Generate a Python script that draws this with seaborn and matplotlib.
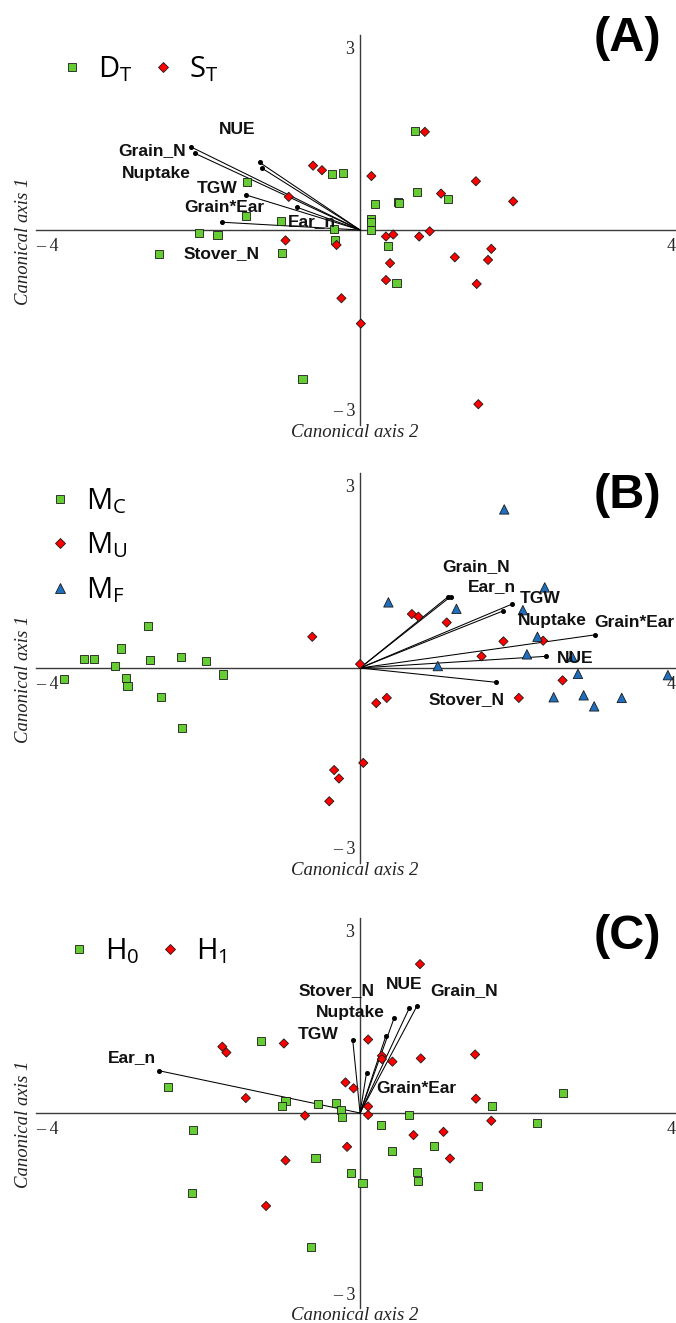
import matplotlib
matplotlib.use("Agg")
import matplotlib.pyplot as plt
import numpy as np
import pandas as pd
import seaborn as sns

sns.set_theme(style="white")
plt.rcParams["font.family"] = ["Liberation Sans", "DejaVu Sans"]
plt.rcParams["mathtext.default"] = "regular"

# ---------------- Panel A data ----------------
A_groups = ["D$_T$", "S$_T$"]
DT_x = [0.68, -0.35, -0.21, -1.40, 0.70, 1.09, 0.18, 0.47, 0.48, -1.41, -0.98, 0.13, 0.13, 0.14,
        -0.32, -1.99, -1.76, -0.31, -2.48, -0.96, 0.35, 0.45, -0.71]
DT_y = [1.53, 0.86, 0.87, 0.74, 0.58, 0.47, 0.40, 0.43, 0.41, 0.21, 0.14, 0.17, 0.13, 0.00,
        0.02, -0.04, -0.08, -0.16, -0.37, -0.35, -0.25, -0.82, -2.29]
ST_x = [0.80, -0.58, -0.47, 0.14, 1.43, -0.88, 1.00, 1.89, 0.86, 0.41, 0.32, 0.73, -0.92, -0.29,
        1.62, 1.17, 1.58, 0.37, 0.32, 1.44, -0.23, 0.01, 1.46]
ST_y = [1.51, 0.99, 0.92, 0.83, 0.75, 0.51, 0.56, 0.44, -0.02, -0.07, -0.10, -0.10, -0.16, -0.23,
        -0.29, -0.42, -0.46, -0.51, -0.77, -0.83, -1.05, -1.44, -2.68]
A_vars = ["Grain_N", "Nuptake", "NUE", "TGW", "Grain*Ear", "Ear_n", "Stover_N"]
A_vec_x = [-2.09, -2.04, -1.24, -1.21, -1.41, -0.78, -1.71]
A_vec_y = [1.28, 1.18, 1.04, 0.95, 0.54, 0.35, 0.12]
A_lab_x = [-2.57, -2.51, -1.52, -1.77, -1.68, -0.60, -1.71]
A_lab_y = [1.22, 0.87, 1.54, 0.64, 0.35, 0.13, -0.37]

# ---------------- Panel B data ----------------
B_groups = ["M$_C$", "M$_U$", "M$_F$"]
MC_x = [-3.65, -3.41, -3.28, -3.03, -2.95, -2.89, -2.87, -2.62, -2.59, -2.46, -2.21, -2.20, -1.90, -1.69]
MC_y = [-0.17, 0.14, 0.14, 0.03, 0.30, -0.15, -0.27, 0.65, 0.13, -0.45, 0.17, -0.92, 0.11, -0.10]
MU_x = [-0.59, 0.00, 0.64, 0.72, 1.07, 1.77, 1.50, 2.26, 2.50, 1.96, 0.20, 0.33, 0.04, -0.32, -0.26, -0.38]
MU_y = [0.48, 0.06, 0.83, 0.79, 0.70, 0.41, 0.18, 0.42, -0.19, -0.46, -0.54, -0.46, -1.46, -1.57, -1.70, -2.05]
MF_x = [1.78, 2.28, 0.35, 1.19, 2.01, 2.19, 2.06, 2.62, 0.96, 2.69, 3.80, 2.39, 2.76, 2.89, 3.23]
MF_y = [2.44, 1.24, 1.01, 0.91, 0.89, 0.48, 0.21, 0.17, 0.03, -0.09, -0.11, -0.45, -0.42, -0.59, -0.46]
B_vars = ["Grain_N", "Ear_n", "TGW", "Nuptake", "Grain*Ear", "NUE", "Stover_N"]
B_vec_x = [1.09, 1.12, 1.87, 1.77, 2.90, 2.30, 1.68]
B_vec_y = [1.10, 1.10, 0.98, 0.88, 0.51, 0.18, -0.22]
B_lab_x = [1.43, 1.63, 2.22, 2.37, 3.39, 2.66, 1.31]
B_lab_y = [1.56, 1.26, 1.07, 0.73, 0.70, 0.15, -0.49]

# ---------------- Panel C data ----------------
C_groups = ["H$_0$", "H$_1$"]
H0_x = [-1.22, -2.37, -0.92, -0.96, -0.52, -0.30, -0.24, -0.22, -2.06, 0.60, 0.26, 1.63, 2.51, 2.18,
        0.91, 0.39, -0.55, -0.11, 0.03, 0.70, 0.71, 1.46, -2.07, -0.61]
H0_y = [1.11, 0.40, 0.19, 0.11, 0.14, 0.16, 0.04, -0.06, -0.26, -0.03, -0.18, 0.11, 0.31, -0.15,
        -0.51, -0.58, -0.69, -0.93, -1.07, -0.91, -1.05, -1.12, -1.23, -2.06]
H1_x = [0.74, 0.10, -0.94, -1.70, -1.65, 1.42, 0.75, 0.27, 0.27, 0.40, -0.18, -0.08, -1.41, 1.43,
        0.10, 0.10, -0.68, 1.62, 0.66, 1.03, -0.16, -0.92, 1.11, -1.16]
H1_y = [2.29, 1.13, 1.07, 1.02, 0.93, 0.90, 0.84, 0.88, 0.83, 0.79, 0.47, 0.38, 0.23, 0.22,
        0.10, -0.03, -0.04, -0.12, -0.34, -0.29, -0.52, -0.73, -0.70, -1.43]
C_vars = ["Ear_n", "TGW", "Grain*Ear", "Stover_N", "Nuptake", "NUE", "Grain_N"]
C_vec_x = [-2.48, -0.09, 0.08, 0.32, 0.42, 0.61, 0.70]
C_vec_y = [0.65, 1.12, 0.62, 1.19, 1.46, 1.62, 1.64]
C_lab_x = [-2.82, -0.52, 0.69, -0.29, -0.12, 0.55, 1.28]
C_lab_y = [0.86, 1.21, 0.37, 1.88, 1.54, 1.97, 1.88]

GREEN, RED, BLUE = "#66CC33", "#FF0000", "#1F6FBF"
MARKER_SIZE = {"s": 34, "D": 22, "^": 46}
XMIN, XMAX, YMIN, YMAX = -4.0, 3.9, -3.0, 3.0


def make_df(groups, xs, ys):
    frames = [pd.DataFrame({"x": x, "y": y, "g": g}) for g, x, y in zip(groups, xs, ys)]
    return pd.concat(frames, ignore_index=True)


def draw_panel(ax, df, groups, markers, colors, vnames, vx, vy, lx, ly,
               letter, letter_y, leg_anchor, ncol, labelspacing):
    ax.set_xlim(XMIN, XMAX)
    ax.set_ylim(YMIN, YMAX)
    for side in ["top", "right"]:
        ax.spines[side].set_visible(False)
    ax.spines["left"].set_position(("data", 0))
    ax.spines["bottom"].set_position(("data", 0))
    ax.spines["left"].set_bounds(YMIN, YMAX)
    ax.spines["bottom"].set_bounds(XMIN, XMAX)
    for side in ["left", "bottom"]:
        ax.spines[side].set_color("#3a3a3a")
        ax.spines[side].set_linewidth(1.0)
    ax.set_xticks(np.arange(-3, 4, 1.0))
    ax.set_yticks([-2.25, -1.5, -0.75, 0.75, 1.5, 2.25])
    ax.tick_params(axis="both", length=3, width=0.8, color="#3a3a3a", direction="out",
                   labelbottom=False, labelleft=False)

    # biplot vectors
    for name, x, y, tx, ty in zip(vnames, vx, vy, lx, ly):
        ax.plot([0, x], [0, y], color="black", lw=0.75, zorder=4,
                marker="o", markersize=2.6, markevery=[1])
        ax.text(tx, ty, name, ha="center", va="center", fontsize=12.5,
                fontweight="bold", color="#111111", zorder=6)

    sns.scatterplot(data=df, x="x", y="y", hue="g", style="g", size="g",
                    hue_order=groups, style_order=groups, size_order=groups,
                    palette=dict(zip(groups, colors)),
                    markers=dict(zip(groups, markers)),
                    sizes={g: MARKER_SIZE[m] for g, m in zip(groups, markers)},
                    edgecolor="#1a1a1a", linewidth=0.6, ax=ax, zorder=5, legend=True)
    ax.set_xlabel("")
    ax.set_ylabel("")

    old = ax.get_legend()
    handles = old.legend_handles
    labels = [t.get_text() for t in old.get_texts()]
    old.remove()
    for h in handles:
        h.set_markeredgecolor("#1a1a1a")
        h.set_markeredgewidth(0.6)
    leg = ax.legend(handles, labels, loc="center left", bbox_to_anchor=leg_anchor,
                    ncol=ncol, frameon=False, prop={"family": "Open Sans", "size": 21},
                    handlelength=0.6, handletextpad=0.6, columnspacing=0.75,
                    borderpad=0, borderaxespad=0, labelspacing=labelspacing)
    for t in leg.get_texts():
        t.set_color("black")

    # panel letter
    ax.text(3.30, letter_y, letter, ha="center", va="center", fontsize=35,
            fontweight="bold", color="black")

    # axis end labels
    serif = "Liberation Serif"
    ax.text(-4.0, -0.26, "\u2013 4", ha="left", va="center", fontsize=13, family=serif)
    ax.text(3.9, -0.25, "4", ha="right", va="center", fontsize=13, family=serif)
    ax.text(-0.07, 2.78, "3", ha="right", va="center", fontsize=13, family=serif)
    ax.text(-0.06, -2.80, "\u2013 3", ha="right", va="center", fontsize=13, family=serif)
    ax.text(-0.07, -3.12, "Canonical axis 2", ha="center", va="center", fontsize=13.5,
            family=serif, style="italic", color="#222222")
    ax.text(-4.15, -0.18, "Canonical axis 1", ha="center", va="center", fontsize=13.5,
            family=serif, style="italic", rotation=90, color="#222222")


fig = plt.figure(figsize=(6.76, 13.23), dpi=100)
W, H = 676.0, 1323.0
left = 36 / W
width = 640 / W
hgt = 390 / H
axA = fig.add_axes([left, (H - 425) / H, width, hgt])
axB = fig.add_axes([left, (H - 863) / H, width, hgt])
axC = fig.add_axes([left, (H - 1308) / H, width, hgt])
for a in (axA, axB, axC):
    a.patch.set_alpha(0)

dfA = make_df(A_groups, [DT_x, ST_x], [DT_y, ST_y])
dfB = make_df(B_groups, [MC_x, MU_x, MF_x], [MC_y, MU_y, MF_y])
dfC = make_df(C_groups, [H0_x, H1_x], [H0_y, H1_y])

draw_panel(axA, dfA, A_groups, ["s", "D"], [GREEN, RED], A_vars, A_vec_x, A_vec_y,
           A_lab_x, A_lab_y, "(A)", 2.95, ((63 - 36) / 640, 1 - (69 - 35) / 390), 2, 0.5)
draw_panel(axB, dfB, B_groups, ["s", "D", "^"], [GREEN, RED, BLUE], B_vars, B_vec_x, B_vec_y,
           B_lab_x, B_lab_y, "(B)", 2.65, ((51 - 36) / 640, 1 - (545.5 - 473) / 390), 1, 0.5)
draw_panel(axC, dfC, C_groups, ["s", "D"], [GREEN, RED], C_vars, C_vec_x, C_vec_y,
           C_lab_x, C_lab_y, "(C)", 2.71, ((70 - 36) / 640, 1 - (951 - 918) / 390), 2, 0.5)

fig.savefig("out.png", dpi=100, facecolor="white")
